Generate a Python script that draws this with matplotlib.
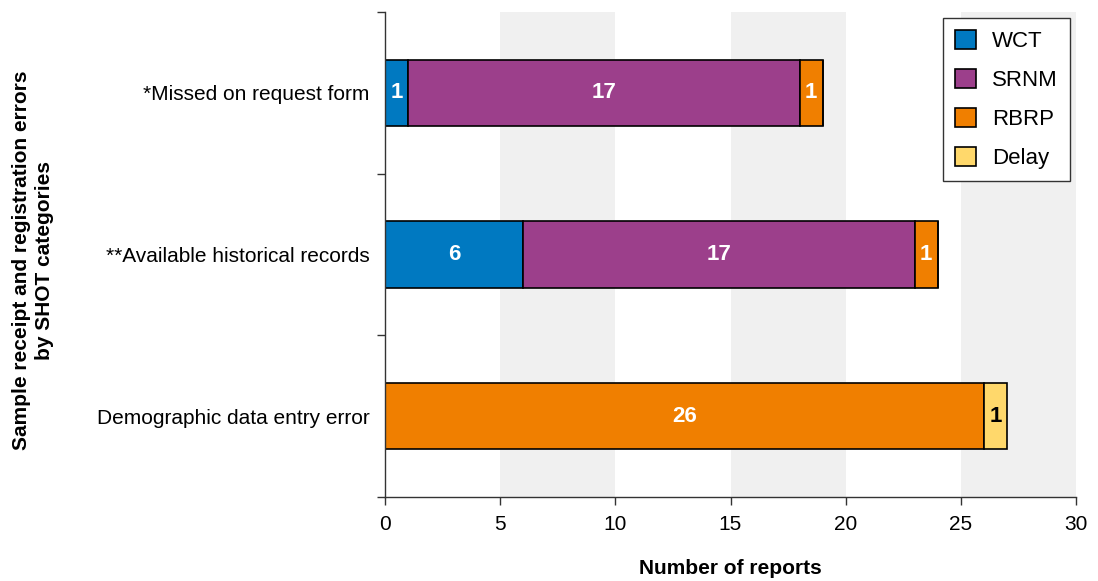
import matplotlib
matplotlib.use("Agg")
import matplotlib.pyplot as plt
import numpy as np

categories = ["Demographic data entry error", "**Available historical records", "*Missed on request form"]
series_names = ["WCT", "SRNM", "RBRP", "Delay"]
wct = [0, 6, 1]
srnm = [0, 17, 17]
rbrp = [26, 1, 1]
delay = [1, 0, 0]
colors = ["#0079c1", "#9c3f8b", "#f07f00", "#ffd86b"]
text_colors = ["white", "white", "white", "black"]

plt.rcParams['font.family'] = ['Liberation Sans', 'DejaVu Sans']

fig = plt.figure(figsize=(10.98, 5.81), dpi=100)
ax = fig.add_axes([385/1098, 1-497/581, (1076-385)/1098, (497-12)/581])

for a, b in [(5, 10), (15, 20), (25, 30)]:
    ax.axvspan(a, b, color="#f0f0f0", zorder=0, lw=0)

y = np.arange(len(categories))
left = np.zeros(len(categories))
data = [wct, srnm, rbrp, delay]
for vals, name, c, tc in zip(data, series_names, colors, text_colors):
    vals = np.array(vals, dtype=float)
    ax.barh(y, vals, left=left, height=0.41, color=c, edgecolor="black",
            linewidth=1.2, label=name, zorder=2)
    for yi, v, l in zip(y, vals, left):
        if v > 0:
            ax.text(l + v/2, yi, f"{int(v)}", ha="center", va="center",
                    color=tc, fontsize=16, fontweight="bold", zorder=3)
    left += vals

ax.set_xlim(0, 30)
ax.set_ylim(-0.5, 2.5)
ax.set_xticks(range(0, 31, 5))
ax.set_yticks(y)
ax.set_yticklabels(categories)
ax.set_yticks([-0.5, 0.5, 1.5, 2.5], minor=True)
ax.tick_params(axis="y", which="major", length=0, pad=11, labelsize=15)
ax.tick_params(axis="y", which="minor", length=6, width=1, color="#333333")
ax.tick_params(axis="x", which="major", length=6, width=1, color="#333333", labelsize=15, pad=7)
for s in ["top", "right"]:
    ax.spines[s].set_visible(False)
for s in ["left", "bottom"]:
    ax.spines[s].set_color("#333333")
    ax.spines[s].set_linewidth(1)

ax.set_xlabel("Number of reports", fontsize=15, fontweight="bold", labelpad=18)
fig.text(33/1098, 1-260/581, "Sample receipt and registration errors\nby SHOT categories",
         rotation=90, ha="center", va="center", fontsize=15, fontweight="bold",
         linespacing=1.2)

leg = ax.legend(loc="upper right", bbox_to_anchor=(1070/1098, 1-18/581), bbox_transform=fig.transFigure,
                fontsize=16, frameon=True, fancybox=False, edgecolor="#333333", framealpha=1,
                handlelength=0.95, handleheight=0.95, handletextpad=0.7, labelspacing=0.75,
                borderpad=0.55, borderaxespad=0)
leg.get_frame().set_linewidth(1)

fig.savefig("out.png", dpi=100)
